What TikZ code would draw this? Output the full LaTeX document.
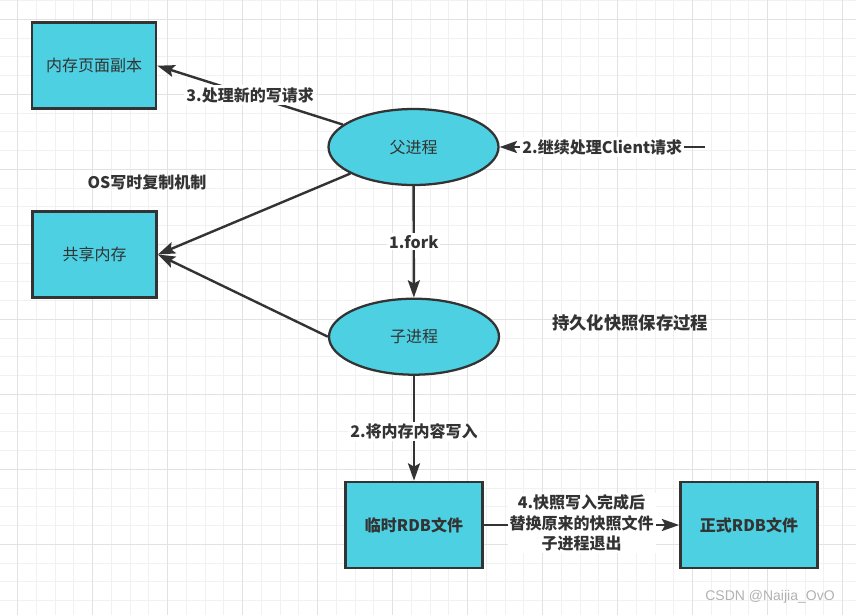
\documentclass[tikz,border=0pt]{standalone}
\usepackage{fontspec}
\setmainfont{Noto Sans CJK SC}
\newfontfamily\wmfont{Liberation Sans}
\usetikzlibrary{arrows.meta,shapes.geometric}
\definecolor{boxcyan}{HTML}{4DD0E1}
\definecolor{ink}{HTML}{333333}
\definecolor{gridminor}{HTML}{F1F1F1}
\definecolor{gridmajor}{HTML}{E2E2E2}
\tikzset{
  proc/.style={ellipse,draw=ink,line width=1.7pt,fill=boxcyan,minimum width=127.5pt,minimum height=57pt,inner sep=0pt,text=ink,font=\fontsize{12}{14}\selectfont},
  store/.style={rectangle,draw=ink,line width=2pt,fill=boxcyan,minimum width=93pt,minimum height=64.5pt,text=ink,font=\fontsize{12}{14}\selectfont},
  rdbbox/.style={store,minimum width=102.75pt,font=\bfseries\fontsize{12}{14}\selectfont},
  flow/.style={draw=ink,line width=1.8pt,-{Stealth[length=13pt,width=9pt,inset=2.5pt]}},
  lbl/.style={fill=white,text=ink,inner sep=1.5pt,align=center,font=\bfseries\fontsize{12}{15.4}\selectfont},
  note/.style={text=ink,font=\bfseries\fontsize{12}{14}\selectfont},
}
\begin{document}
\begin{tikzpicture}[x=0.75pt,y=-0.75pt]
  \fill[white] (0,0) rectangle (856,615);
  \useasboundingbox (0,0) rectangle (856,615);
  \foreach \i in {0,...,46}
    \draw[gridminor,line width=0.75pt] ({-1.05+18.75*\i},0) -- ++(0,615);
  \foreach \i in {0,...,33}
    \draw[gridminor,line width=0.75pt] (0,{0.55+18.75*\i}) -- ++(856,0);
  \foreach \i in {0,...,11}
    \draw[gridmajor,line width=0.75pt] ({17.7+75*\i},0) -- ++(0,615);
  \foreach \i in {0,...,7}
    \draw[gridmajor,line width=0.75pt] (0,{19.3+75*\i}) -- ++(856,0);

  \node[store] (page) at (94,65.7) {内存页面副本};
  \node[store] (share) at (94.5,254.5) {共享内存};
  \node[proc] (fu) at (413.5,147) {父进程};
  \node[proc] (zi) at (414,336.7) {子进程};
  \node[rdbbox] (tmp) at (414,525) {临时RDB文件};
  \node[rdbbox] (rdb) at (749,525) {正式RDB文件};
  \coordinate (client) at (705,147);

  \draw[flow] (fu) -- (page.east) node[lbl,midway] {3.处理新的写请求};
  \draw[flow] (client) -- (fu.east) node[lbl,midway] {2.继续处理Client请求};
  \draw[flow] (fu) -- (share.east);
  \draw[flow] (zi.west) -- (share.east);
  \draw[flow] (fu) -- (zi) node[lbl,midway] {1.fork};
  \draw[flow] (zi) -- (tmp) node[lbl,pos=0.53] {2.将内存内容写入};
  \draw[flow] (tmp) -- (rdb) node[lbl,midway,yshift=1.5pt] {4.快照写入完成后\\替换原来的快照文件\\子进程退出};

  \node[note] (os) at (147,182) {OS写时复制机制};
  \node[note,font=\bfseries\fontsize{13}{15}\selectfont] (title) at (630,323) {持久化快照保存过程};
  \node[text=black!30,font=\wmfont\fontsize{10.5}{12}\selectfont] (mark) at (770,597) {CSDN @Naijia\_OvO};
\end{tikzpicture}
\end{document}
